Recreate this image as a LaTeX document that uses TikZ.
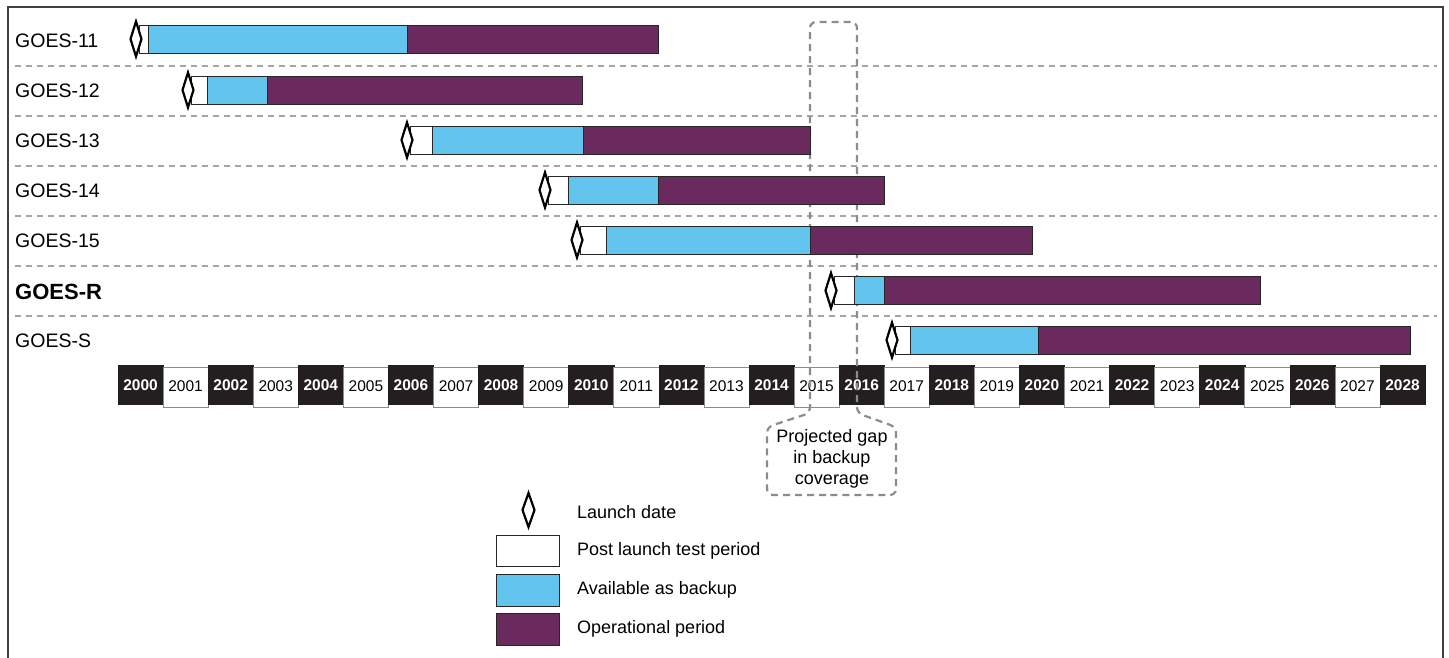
\documentclass[tikz,border=0pt]{standalone}
\usepackage{fontspec}
\setmainfont{Liberation Sans}
\definecolor{backup}{RGB}{99,197,237}
\definecolor{oper}{RGB}{107,42,93}
\definecolor{cellblack}{RGB}{35,31,32}
\definecolor{gapgray}{RGB}{140,140,140}
\definecolor{sepgray}{RGB}{165,165,165}
\begin{document}
\begin{tikzpicture}[x=1pt,y=-1pt,
  frame/.style={draw=black!75, line width=1.6pt},
  sepline/.style={draw=sepgray, line width=1.2pt, dash pattern=on 6pt off 5pt},
  seg/.style={draw=black!85, line width=0.9pt},
  launch/.style={draw=black, line width=2.2pt, fill=white, line join=miter},
  gapline/.style={draw=gapgray, line width=2.2pt, dash pattern=on 7pt off 5pt, rounded corners=6pt},
  rowlabel/.style={anchor=west, inner sep=0pt, font=\fontsize{19.5}{22}\selectfont},
  legtext/.style={anchor=west, inner sep=0pt, font=\fontsize{18}{21}\selectfont},
  yearblack/.style={fill=cellblack, draw=cellblack, line width=0.5pt},
  yearwhite/.style={fill=white, draw=black!45, line width=0.6pt},
  gaptext/.style={align=center, inner sep=0pt, font=\fontsize{18}{21}\selectfont}
]
\useasboundingbox (0,0) rectangle (1449,658);
\fill[white] (0,0) rectangle (1449,658);
\draw[frame] (8,658) -- (8,7) -- (1443,7) -- (1443,658);

% separators
\foreach \y in {66,116,166,216,266,316}
  \draw[sepline] (15,\y) -- (1437,\y);

% row labels
\node[rowlabel] (l11) at (15,41) {GOES-11};
\node[rowlabel] (l12) at (15,91) {GOES-12};
\node[rowlabel] (l13) at (15,141) {GOES-13};
\node[rowlabel] (l14) at (15,191) {GOES-14};
\node[rowlabel] (l15) at (15,241) {GOES-15};
\node[rowlabel, font=\bfseries\fontsize{22}{24}\selectfont] (lR) at (15,292) {GOES-R};
\node[rowlabel] (lS) at (15,341) {GOES-S};

% timeline
\foreach \i in {0,...,28} {
  \pgfmathsetmacro\xa{118+\i*45.07}
  \pgfmathsetmacro\xb{\xa+45.07}
  \pgfmathsetmacro\xm{\xa+22.535}
  \pgfmathtruncatemacro\yr{2000+\i}
  \ifodd\i
    \draw[yearwhite] (\xa,367) rectangle (\xb,407);
    \node[font=\fontsize{15.5}{18}\selectfont, inner sep=0pt] (y\yr) at (\xm,386) {\yr};
  \else
    \draw[yearblack] (\xa,365) rectangle (\xb,404);
    \node[font=\bfseries\fontsize{15.5}{18}\selectfont, text=white, inner sep=0pt] (y\yr) at (\xm,385.5) {\yr};
  \fi
}

% projected gap outline
\draw[gapline] (832,495) -- (767,495) -- (767,427) -- (810,413) -- (810,22) -- (857,22) -- (857,413) -- (896,427) -- (896,495) -- cycle;
\node[gaptext] (gaptxt) at (832,459) {Projected gap\\in backup\\coverage};

% bars
\newcommand\goesbar[5]{%
  \draw[seg, fill=white] (#2,#1-14) rectangle (#3,#1+14);
  \draw[seg, fill=backup] (#3,#1-14) rectangle (#4,#1+14);
  \draw[seg, fill=oper] (#4,#1-14) rectangle (#5,#1+14);
  \draw[launch] (#2-8.5,#1) -- (#2-3,#1-17.5) -- (#2+2.5,#1) -- (#2-3,#1+17.5) -- cycle;
}
\goesbar{39}{139}{148}{407}{658}
\goesbar{90}{191}{207}{267}{582}
\goesbar{140}{410}{432}{583}{810}
\goesbar{190}{548}{568}{658}{884}
\goesbar{240}{580}{606}{810}{1032}
\goesbar{290.5}{834}{854}{884}{1260}
\goesbar{340}{895}{910}{1038}{1410}

% legend
\draw[launch] (522.5,510) -- (528.5,493) -- (534.5,510) -- (528.5,527) -- cycle;
\draw[seg, fill=white] (496,535) rectangle (559,566);
\draw[seg, fill=backup] (496,574) rectangle (559,606);
\draw[seg, fill=oper] (496,613) rectangle (559,645);
\node[legtext] (t1) at (577,512) {Launch date};
\node[legtext] (t2) at (577,551) {Post launch test period};
\node[legtext] (t3) at (577,590) {Available as backup};
\node[legtext] (t4) at (577,629) {Operational period};
\end{tikzpicture}
\end{document}
